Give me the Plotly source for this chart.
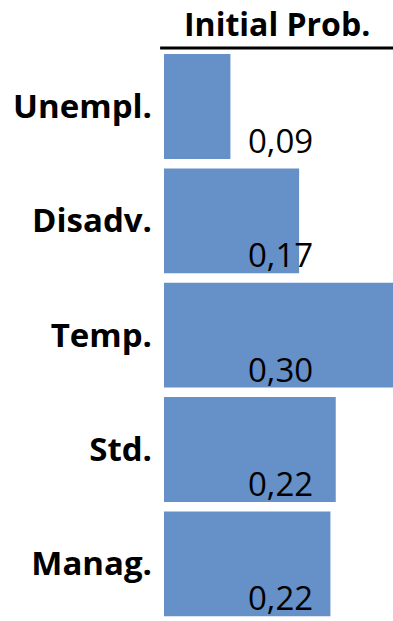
import plotly.graph_objects as go

categories = ["Unempl.", "Disadv.", "Temp.", "Std.", "Manag."]
values = [0.087, 0.177, 0.30, 0.225, 0.218]
labels = ["0,09", "0,17", "0,30", "0,22", "0,22"]
title_text = "Initial Prob."

BAR = "#6590C8"
FONT = "Open Sans"

fig = go.Figure(go.Bar(
    x=values, y=categories, orientation="h",
    marker=dict(color=BAR, line=dict(width=0)),
    hoverinfo="skip",
))

for c, t in zip(categories, labels):
    fig.add_annotation(x=0.107, y=c, xref="x", yref="y", text=t,
                       showarrow=False, xanchor="left", yanchor="middle",
                       yshift=-34, font=dict(family=FONT, size=33, color="black"))

fig.add_annotation(x=0.493, y=1, xref="paper", yref="paper", text="<b>%s</b>" % title_text,
                   showarrow=False, xanchor="center", yanchor="bottom", yshift=1,
                   font=dict(family=FONT, size=32, color="black"))

fig.add_shape(type="line", xref="paper", yref="paper", x0=-0.017, x1=1, y0=1, y1=1,
              line=dict(color="black", width=3))

fig.update_layout(
    width=393, height=621,
    margin=dict(l=164, r=0, t=48, b=0, autoexpand=False),
    plot_bgcolor="white", paper_bgcolor="white",
    bargap=0.083, showlegend=False,
    xaxis=dict(range=[0, 0.30], visible=False, fixedrange=True, automargin=False),
    yaxis=dict(autorange="reversed", showgrid=False, zeroline=False, showline=False,
               ticks="", ticklabelstandoff=11, automargin=False,
               tickfont=dict(family=FONT, size=33, color="black", weight="bold"),
               fixedrange=True),
)

fig.write_html("out.html", config={"displayModeBar": False},
               post_script="document.body.style.margin='0';document.body.style.overflow='hidden';")
